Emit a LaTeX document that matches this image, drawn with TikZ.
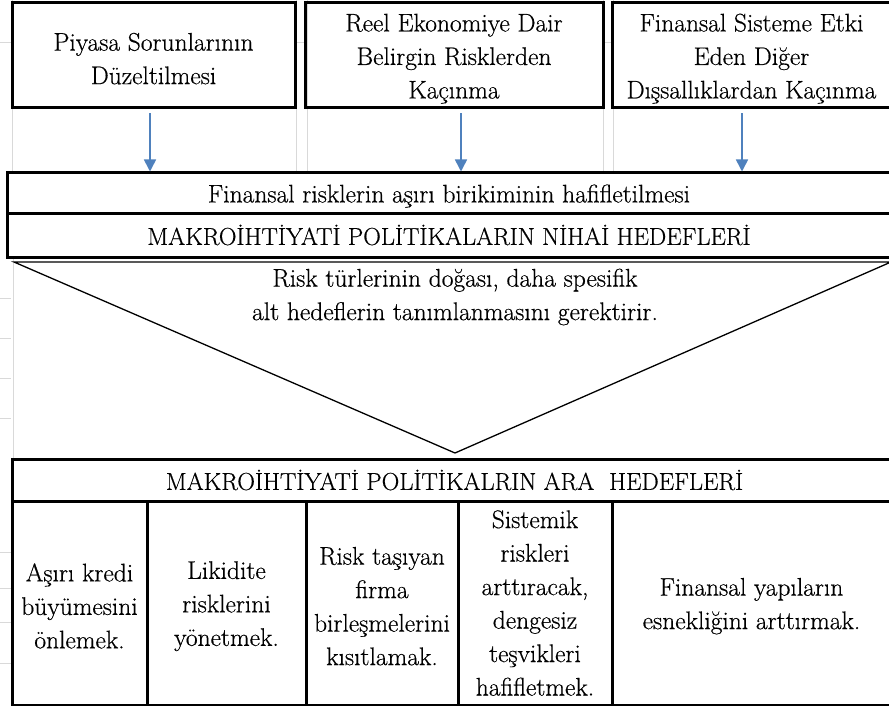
\documentclass[tikz,border=0pt]{standalone}
\usepackage{fontspec}
\setmainfont{Latin Modern Roman}[FakeBold=0.5]
\usetikzlibrary{arrows.meta,calc}

\definecolor{gridgray}{HTML}{D9D9D9}
\definecolor{arrowblue}{HTML}{4F81BD}

% raises the first line box so that text sits a little lower in its cell
\newcommand{\cellstrut}{\rule{0pt}{24pt}}

\tikzset{
  txt/.style={align=center, font=\rmfamily\fontsize{25.5}{33.5}\selectfont, inner sep=0pt},
  goalbox/.style={txt, draw=black, line width=3pt},
  caps/.style={font=\rmfamily\fontsize{24.5}{33.5}\selectfont},
  gridline/.style={draw=gridgray, line width=1pt},
  flow/.style={draw=arrowblue, line width=1.6pt,
    -{Triangle[width=12pt,length=12pt]}, shorten <=4pt},
  funnel/.style={draw=black, line width=1.3pt, line join=miter},
}

\begin{document}
\begin{tikzpicture}[x=1pt, y=-1pt]
\useasboundingbox (0,0) rectangle (889,706);

% spreadsheet cell lines behind the chart
\foreach \gx in {12,296,307,603,613}
  \draw[gridline] (\gx,0) -- (\gx,173);
\draw[gridline] (13,257) -- (13,459);
\foreach \gy in {43,298,338,378,418,552,588,622,663}
  \draw[gridline] (0,\gy) -- (11,\gy);
\draw[gridline] (295,43) -- (305,43);
\draw[gridline] (603,43) -- (612,43);

% sources of systemic risk
\node[goalbox, minimum width=283pt, minimum height=105pt] (src1) at (153.5,55.5)
  {\cellstrut Piyasa Sorunlarının\\Düzeltilmesi};
\node[goalbox, minimum width=298pt, minimum height=105pt] (src2) at (454,55.5)
  {\cellstrut Reel Ekonomiye Dair\\Belirgin Risklerden\\Kaçınma};
\node[goalbox, minimum width=279pt, minimum height=105pt] (src3) at (751.5,55.5)
  {\cellstrut Finansal Sisteme Etki\\Eden Diğer\\Dışsallıklardan Kaçınma};

% final objectives
\node[goalbox, minimum width=884pt, minimum height=40pt] (mitig) at (449,193)
  {\cellstrut Finansal risklerin aşırı birikiminin hafifletilmesi};
\node[goalbox, caps, minimum width=884pt, minimum height=44pt] (final) at (449,235)
  {MAKROİHTİYATİ POLİTİKALARIN NİHAİ HEDEFLERİ};

% arrows into the mitigation bar
\coordinate (a1) at ($(src1.south)+(-3.5,0)$);
\coordinate (a2) at ($(src2.south)+(7,0)$);
\coordinate (a3) at ($(src3.south)+(-9.5,0)$);
\draw[flow] (a1) -- (a1 |- mitig.north);
\draw[flow] (a2) -- (a2 |- mitig.north);
\draw[flow] (a3) -- (a3 |- mitig.north);

% funnel towards the intermediate objectives
\coordinate (fl) at (14,262);
\coordinate (fr) at (891,262);
\coordinate (fa) at (455,453);
\draw[funnel] (fl) -- (fr) -- (fa) -- cycle;
\node[txt] (note) at (455,297)
  {Risk türlerinin doğası, daha spesifik\\alt hedeflerin tanımlanmasını gerektirir.};

% intermediate objectives table
\node[goalbox, caps, minimum width=879pt, minimum height=42pt] (inter) at (451.5,480)
  {\hspace*{6pt}MAKROİHTİYATİ POLİTİKALRIN ARA~~HEDEFLERİ};
\node[goalbox, minimum width=135pt, minimum height=204pt] (c1) at (79.5,603)
  {\cellstrut Aşırı kredi\\büyümesini\\önlemek.};
\node[goalbox, minimum width=159pt, minimum height=204pt] (c2) at (226.5,603)
  {\cellstrut Likidite\\risklerini\\yönetmek.};
\node[goalbox, minimum width=152pt, minimum height=204pt] (c3) at (382,603)
  {\cellstrut Risk taşıyan\\firma\\birleşmelerini\\kısıtlamak.};
\node[goalbox, minimum width=154pt, minimum height=204pt] (c4) at (535,603)
  {Sistemik\\riskleri\\arttıracak,\\dengesiz\\teşvikleri\\hafifletmek.};
\node[goalbox, minimum width=279pt, minimum height=204pt] (c5) at (751.5,603)
  {\cellstrut Finansal yapıların\\esnekliğini arttırmak.};
\end{tikzpicture}
\end{document}
